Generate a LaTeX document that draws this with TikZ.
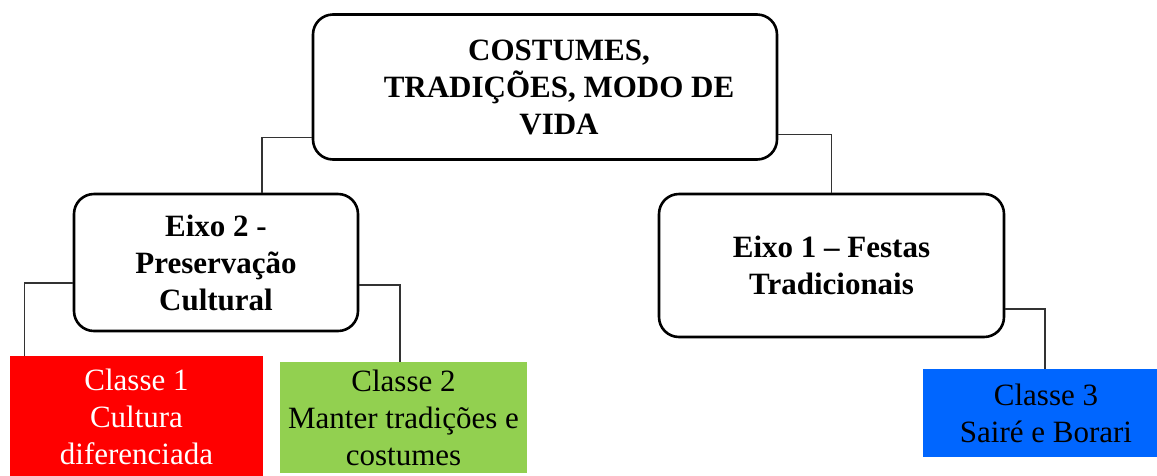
\documentclass[tikz,border=0pt]{standalone}
\usepackage{fontspec}
\setmainfont{Liberation Serif}
\definecolor{cred}{HTML}{FF0000}
\definecolor{cgreen}{HTML}{92D050}
\definecolor{cblue}{HTML}{0066FF}
\definecolor{conn}{HTML}{333333}
\begin{document}
\begin{tikzpicture}[x=1pt,y=-1pt,
  rbox/.style={draw=black, line width=2.6pt, rounded corners=20pt, fill=white, align=center, inner sep=0pt, font=\fontsize{31}{37}\selectfont\bfseries},
  cbox/.style={draw=none, align=center, inner sep=0pt, font=\fontsize{31}{37}\selectfont},
  link/.style={draw=conn, line width=1.1pt}]
\useasboundingbox (0,0) rectangle (1157,475);
\node[rbox, minimum width=464pt, minimum height=145pt] (top) at (545,87) {\hspace*{28pt}COSTUMES,\\\hspace*{28pt}TRADIÇÕES, MODO DE\\\hspace*{28pt}VIDA};
\node[rbox, minimum width=284pt, minimum height=137pt] (e2) at (216,262.5) {Eixo 2 -\\Preservação\\Cultural};
\node[rbox, minimum width=345pt, minimum height=143pt] (e1) at (831.5,265.5) {Eixo 1 – Festas\\Tradicionais};
\node[cbox, fill=cred, text=white, minimum width=253pt, minimum height=121pt] (c1) at (136.5,416.5) {Classe 1\\Cultura\\diferenciada};
\node[cbox, fill=cgreen, text=black, minimum width=247pt, minimum height=111pt] (c2) at (403.5,417.5) {Classe 2\\Manter tradições e\\costumes};
\node[cbox, fill=cblue, text=black, minimum width=234pt, minimum height=88pt] (c3) at (1040,413) {\hspace*{12pt}Classe 3\\\hspace*{12pt}Sairé e Borari};
\draw[link] ([yshift=23.5pt]top.south west) -| ([xshift=46pt]e2.north);
\draw[link] ([yshift=26.5pt]top.south east) -| (e1.north);
\draw[link] ([yshift=-20.5pt]e2.west) -| ([xshift=14.5pt]c1.north west);
\draw[link] ([yshift=-22.5pt]e2.east) -| ([xshift=-3.5pt]c2.north);
\draw[link] ([yshift=-43.5pt]e1.east) -| ([xshift=5pt]c3.north);
\end{tikzpicture}
\end{document}
